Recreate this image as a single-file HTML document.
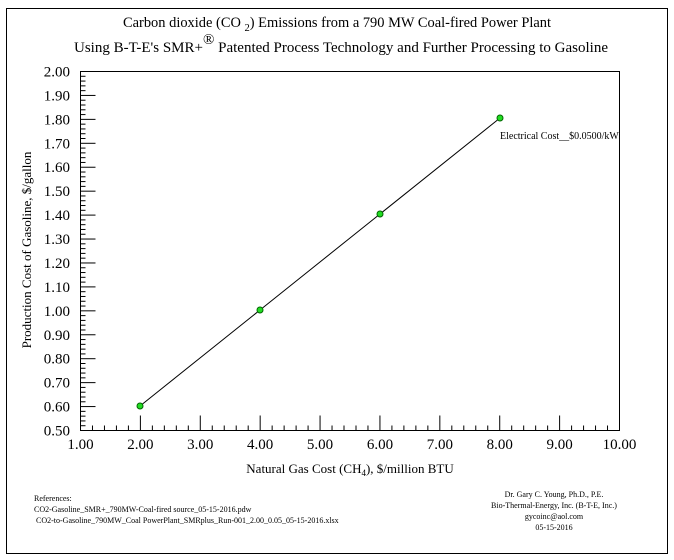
<!DOCTYPE html>
<html><head><meta charset="utf-8"><style>
html,body{margin:0;padding:0;background:#fff;}
svg{display:block;}
text{font-family:"Liberation Serif","Times New Roman",serif;}
</style></head><body>
<svg width="674" height="560" viewBox="0 0 674 560">
<rect x="6.5" y="8.5" width="661" height="545" fill="#fff" stroke="#000" stroke-width="1"/>
<text x="337" y="27" text-anchor="middle" font-size="15" textLength="428" lengthAdjust="spacingAndGlyphs">Carbon dioxide (CO <tspan font-size="11" dy="4">2</tspan><tspan dy="-4">) Emissions from a 790 MW Coal-fired Power Plant</tspan></text>
<text x="74" y="52" font-size="15">Using B-T-E's SMR+<tspan font-size="15" dy="-8">®</tspan><tspan dy="8">  Patented Process Technology and Further Processing to Gasoline</tspan></text>
<g id="ticks" stroke="#000" stroke-width="1"></g>
<rect x="80.5" y="71.5" width="539" height="359" fill="none" stroke="#000"/>
<g font-size="15" text-anchor="end" id="yl"></g>
<g font-size="15" text-anchor="middle" id="xl"></g>
<text transform="translate(31,250) rotate(-90)" text-anchor="middle" font-size="13">Production Cost of Gasoline, $/gallon</text>
<text x="350" y="473" text-anchor="middle" font-size="13">Natural Gas Cost (CH<tspan font-size="9" dy="3">4</tspan><tspan dy="-3">), $/million BTU</tspan></text>
<polyline points="140,406 260,310 380,214 500,118" fill="none" stroke="#000" stroke-width="1"/>
<g fill="#22dd22" stroke="#006600" stroke-width="1">
<circle cx="140" cy="406" r="3"/><circle cx="260" cy="310" r="3"/><circle cx="380" cy="214" r="3"/><circle cx="500" cy="118" r="3"/>
</g>
<svg x="0" y="0" width="619" height="560"><text x="500" y="139" font-size="10">Electrical Cost__$0.0500/kWh</text></svg>
<g font-size="8">
<text x="34" y="501">References:</text>
<text x="34" y="512">CO2-Gasoline_SMR+_790MW-Coal-fired source_05-15-2016.pdw</text>
<text x="36" y="523">CO2-to-Gasoline_790MW_Coal PowerPlant_SMRplus_Run-001_2.00_0.05_05-15-2016.xlsx</text>
</g>
<g font-size="8" text-anchor="middle">
<text x="554" y="497">Dr. Gary C. Young, Ph.D., P.E.</text>
<text x="554" y="508">Bio-Thermal-Energy, Inc. (B-T-E, Inc.)</text>
<text x="554" y="519">gycoinc@aol.com</text>
<text x="554" y="530">05-15-2016</text>
</g>
</svg>
<script>
var ns="http://www.w3.org/2000/svg";
var t=document.getElementById("ticks"),yl=document.getElementById("yl"),xl=document.getElementById("xl");
function L(x1,y1,x2,y2){var l=document.createElementNS(ns,"line");l.setAttribute("x1",x1);l.setAttribute("y1",y1);l.setAttribute("x2",x2);l.setAttribute("y2",y2);t.appendChild(l);}
for(var i=0;i<=75;i++){var y=430.5-i*359/75;var maj=i%5==0;L(80.5,y,80.5+(maj?15:5),y);
if(maj){var s=document.createElementNS(ns,"text");s.setAttribute("x",70);s.setAttribute("y",y+5);s.textContent=(0.5+i*0.02).toFixed(2);yl.appendChild(s);}}
for(var i=0;i<=45;i++){var x=80.5+i*539/45;var maj=i%5==0;L(x,430.5,x,430.5-(maj?15:5));
if(maj){var s=document.createElementNS(ns,"text");s.setAttribute("x",x);s.setAttribute("y",449);s.textContent=(1+i*0.2).toFixed(2);xl.appendChild(s);}}
</script>
</body></html>
